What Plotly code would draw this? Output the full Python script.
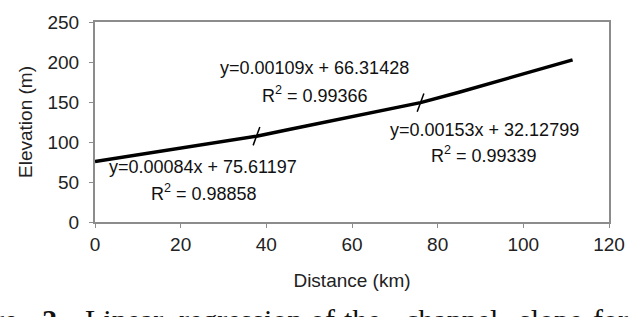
import plotly.graph_objects as go

# Data
distance_km = [0, 10, 20, 30, 37.7, 45, 55, 65, 76, 85, 95, 105, 111.5]
elevation_m = [75.6, 84.0, 92.4, 100.8, 107.3, 115.4, 126.3, 137.2, 149.2, 162.2, 177.5, 192.8, 202.7]
break_km = [37.7, 76]
break_elev = [107.3, 149.2]

eq_text = ["y=0.00084x + 75.61197", "y=0.00109x + 66.31428", "y=0.00153x + 32.12799"]
r2_text = ["R<sup>2</sup> = 0.98858", "R<sup>2</sup> = 0.99366", "R<sup>2</sup> = 0.99339"]
eq_pos = [(25.2, 69), (51.3, 193), (90.9, 115.5)]
r2_pos = [(25.5, 37), (51.3, 159), (90.9, 84)]

x_ticks = [0, 20, 40, 60, 80, 100, 120]
y_ticks = [0, 50, 100, 150, 200, 250]

caption_words = ["re", "<b>2.</b>", "Linear", "regression", "of", "the", "channel", "slope", "for", "the"]
caption_px = [-8, 40, 83, 177, 308, 342, 404, 518, 592, 640]

FONT = "Liberation Sans, Arial, sans-serif"
L, R, T, B = 95, 27, 12, 95
W, H = 637, 317
PW, PH = W - L - R, H - T - B

fig = go.Figure()
fig.add_trace(go.Scatter(x=distance_km, y=elevation_m, mode="lines",
                         line=dict(color="black", width=3.5), showlegend=False))
fig.add_trace(go.Scatter(x=break_km, y=break_elev, mode="markers",
                         marker=dict(symbol="line-ns", size=14, angle=20,
                                     line=dict(color="black", width=1.5)),
                         showlegend=False))

for t, (x, y) in zip(eq_text, eq_pos):
    fig.add_annotation(x=x, y=y, text=t, showarrow=False,
                       font=dict(family=FONT, size=18, color="#111"))
for t, (x, y) in zip(r2_text, r2_pos):
    fig.add_annotation(x=x, y=y, text=t, showarrow=False,
                       font=dict(family=FONT, size=18, color="#111"))

for w, px in zip(caption_words, caption_px):
    fig.add_annotation(xref="paper", yref="paper", x=(px - L) / PW, y=(T + PH - 305) / PH,
                       xanchor="left", yanchor="top", text=w, showarrow=False,
                       font=dict(family="Liberation Serif, serif", size=30, color="#111"))

fig.update_layout(
    width=W, height=H,
    margin=dict(l=L, r=R, t=T, b=B),
    plot_bgcolor="white", paper_bgcolor="white",
    font=dict(family=FONT, size=19, color="#222"),
)
fig.update_xaxes(range=[0, 120], tickvals=x_ticks, showgrid=False, zeroline=False,
                 showline=True, linecolor="#8c8c8c", linewidth=2, mirror=True,
                 ticks="outside", ticklen=4, tickcolor="#8c8c8c",
                 title=dict(text="Distance (km)", standoff=20, font=dict(size=19)))
fig.update_yaxes(range=[0, 250], tickvals=y_ticks, showgrid=False, zeroline=False,
                 showline=True, linecolor="#8c8c8c", linewidth=2, mirror=True,
                 ticks="outside", ticklen=4, tickcolor="#8c8c8c",
                 ticklabelstandoff=6,
                 title=dict(text="Elevation (m)", standoff=10, font=dict(size=19)))

fig.write_html("out.html")
